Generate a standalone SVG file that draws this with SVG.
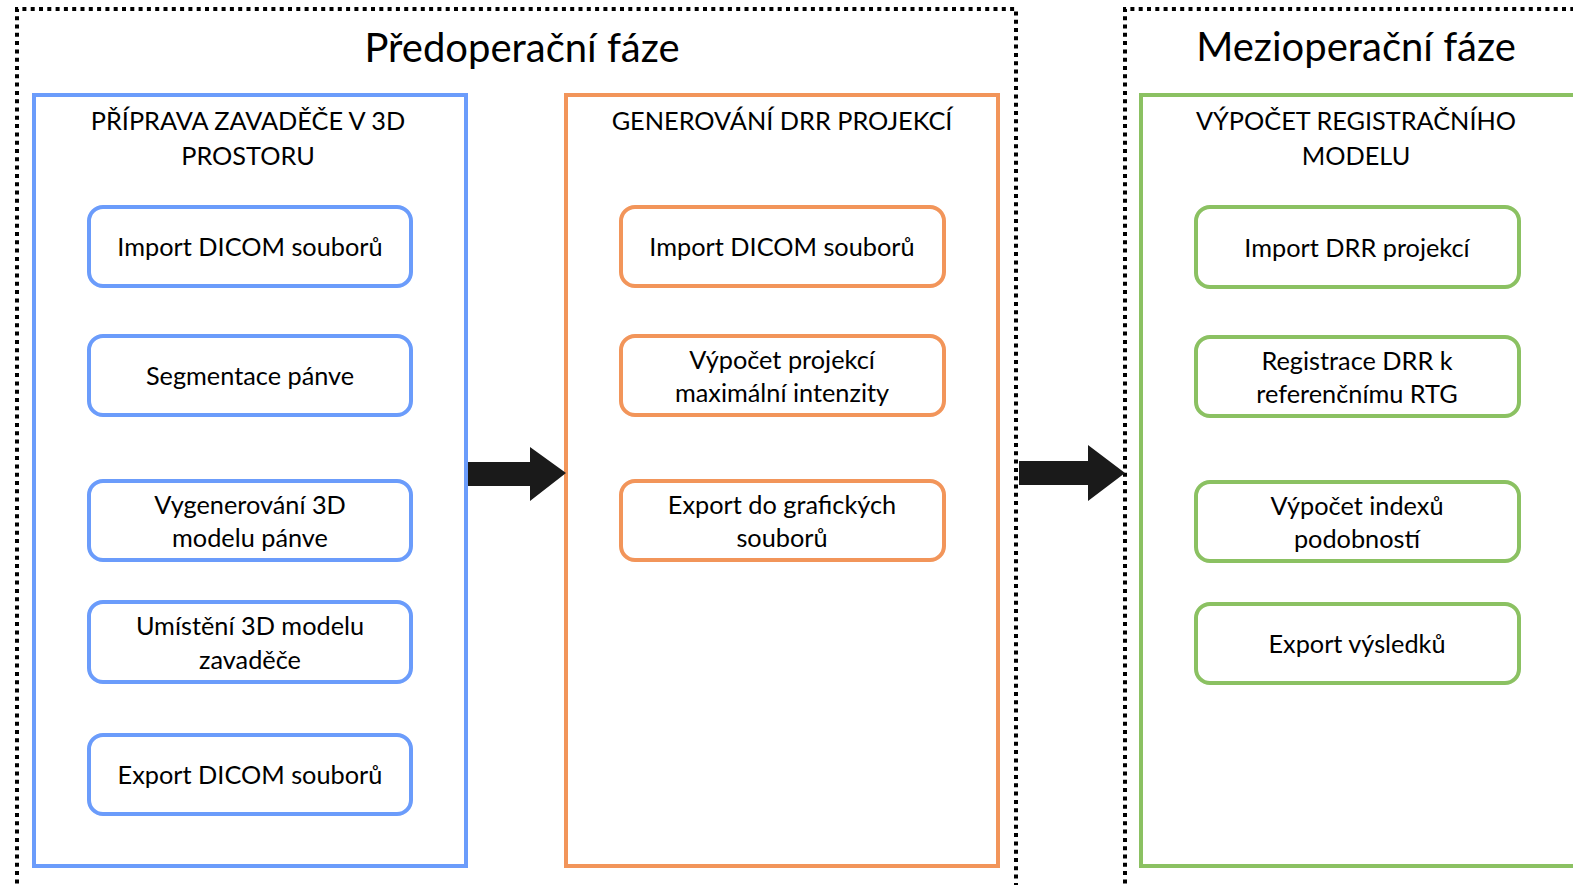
<svg xmlns="http://www.w3.org/2000/svg" width="1573" height="885" viewBox="0 0 1573 885">
  <style>
    text { font-family: "Lato", "Liberation Sans", sans-serif; fill: #000; text-anchor: middle; }
    .phase { fill: none; stroke: #000; stroke-width: 4; stroke-dasharray: 4 4.3; }
    .title { font-size: 40px; }
    .head { font-size: 25.3px; }
    .lbl { font-size: 25.3px; }
    .blue { fill: none; stroke: #6b9cfb; stroke-width: 4; }
    .orange { fill: none; stroke: #f2955a; stroke-width: 4; }
    .green { fill: none; stroke: #8bc162; stroke-width: 4; }
    .node { fill: #fff; stroke-width: 4; }
    .arrow { fill: #1a1a1a; }
  </style>

  <rect width="1573" height="885" fill="#fff"/>

  <!-- phase frames (dotted) -->
  <g id="phase-pre">
    <path class="phase" d="M17 900 V9 H1016 V900"/>
    <text class="title" x="522" y="62">Předoperační fáze</text>
  </g>
  <g id="phase-intra">
    <path class="phase" d="M1125 900 V9 H1580"/>
    <text class="title" x="1356" y="61">Mezioperační fáze</text>
  </g>

  <!-- stage 1 -->
  <g id="stage-priprava">
    <rect class="blue" x="34" y="95" width="432" height="771"/>
    <text class="head" x="248" y="130">PŘÍPRAVA ZAVADĚČE V 3D</text>
    <text class="head" x="248" y="165">PROSTORU</text>
  </g>
  <g id="n-import-dicom-1">
    <rect class="blue node" x="89" y="207" width="322" height="79" rx="14"/>
    <text class="lbl" x="250" y="256">Import DICOM souborů</text>
  </g>
  <g id="n-segmentace">
    <rect class="blue node" x="89" y="336" width="322" height="79" rx="14"/>
    <text class="lbl" x="250" y="385">Segmentace pánve</text>
  </g>
  <g id="n-vygenerovani">
    <rect class="blue node" x="89" y="481" width="322" height="79" rx="14"/>
    <text class="lbl" x="250" y="514">Vygenerování 3D</text>
    <text class="lbl" x="250" y="547">modelu pánve</text>
  </g>
  <g id="n-umisteni">
    <rect class="blue node" x="89" y="602" width="322" height="80" rx="14"/>
    <text class="lbl" x="250" y="635">Umístění 3D modelu</text>
    <text class="lbl" x="250" y="669">zavaděče</text>
  </g>
  <g id="n-export-dicom">
    <rect class="blue node" x="89" y="735" width="322" height="79" rx="14"/>
    <text class="lbl" x="250" y="784">Export DICOM souborů</text>
  </g>

  <!-- stage 2 -->
  <g id="stage-drr">
    <rect class="orange" x="566" y="95" width="432" height="771"/>
    <text class="head" x="782" y="130">GENEROVÁNÍ DRR PROJEKCÍ</text>
  </g>
  <g id="n-import-dicom-2">
    <rect class="orange node" x="621" y="207" width="323" height="79" rx="14"/>
    <text class="lbl" x="782" y="256">Import DICOM souborů</text>
  </g>
  <g id="n-mip">
    <rect class="orange node" x="621" y="336" width="323" height="79" rx="14"/>
    <text class="lbl" x="782" y="369">Výpočet projekcí</text>
    <text class="lbl" x="782" y="402">maximální intenzity</text>
  </g>
  <g id="n-export-graf">
    <rect class="orange node" x="621" y="481" width="323" height="79" rx="14"/>
    <text class="lbl" x="782" y="514">Export do grafických</text>
    <text class="lbl" x="782" y="547">souborů</text>
  </g>

  <!-- stage 3 -->
  <g id="stage-registrace">
    <rect class="green" x="1141" y="95" width="450" height="771"/>
    <text class="head" x="1356" y="130">VÝPOČET REGISTRAČNÍHO</text>
    <text class="head" x="1356" y="165">MODELU</text>
  </g>
  <g id="n-import-drr">
    <rect class="green node" x="1196" y="207" width="323" height="80" rx="14"/>
    <text class="lbl" x="1357" y="257">Import DRR projekcí</text>
  </g>
  <g id="n-registrace">
    <rect class="green node" x="1196" y="337" width="323" height="79" rx="14"/>
    <text class="lbl" x="1357" y="370">Registrace DRR k</text>
    <text class="lbl" x="1357" y="403">referenčnímu RTG</text>
  </g>
  <g id="n-indexy">
    <rect class="green node" x="1196" y="482" width="323" height="79" rx="14"/>
    <text class="lbl" x="1357" y="515">Výpočet indexů</text>
    <text class="lbl" x="1357" y="548">podobností</text>
  </g>
  <g id="n-export-vysledku">
    <rect class="green node" x="1196" y="604" width="323" height="79" rx="14"/>
    <text class="lbl" x="1357" y="653">Export výsledků</text>
  </g>

  <!-- block arrows between stages -->
  <g id="connectors">
    <polygon class="arrow" points="468,462 530,462 530,447 566,473 530,501 530,486 468,486"/>
    <polygon class="arrow" points="1019,461 1088,461 1088,445 1125,473 1088,501 1088,485 1019,485"/>
  </g>
</svg>
